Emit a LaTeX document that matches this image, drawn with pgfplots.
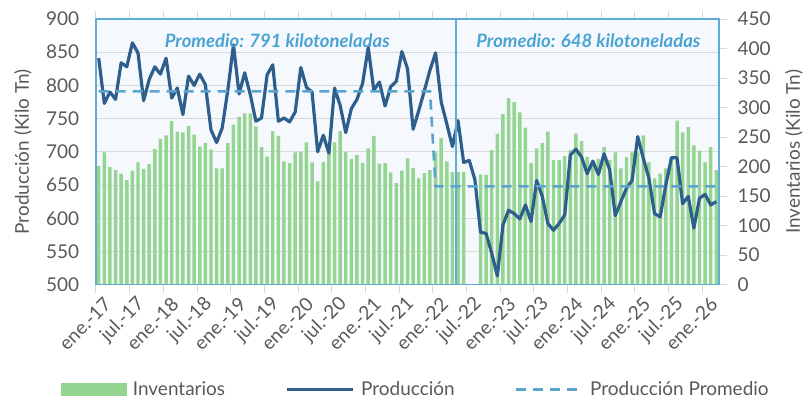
\documentclass[border=0pt]{standalone}
\usepackage{fontspec}
\setmainfont{Lato}
\usepackage{pgfplots}
\usepackage{pgfplotstable}
\pgfplotsset{compat=1.18}

\definecolor{barg}{RGB}{149,213,146}
\definecolor{prodc}{RGB}{46,94,140}
\definecolor{avgc}{RGB}{91,164,207}
\definecolor{boxc}{RGB}{96,172,214}
\definecolor{boxfill}{RGB}{245,249,253}
\definecolor{gridc}{RGB}{217,217,217}
\definecolor{txt}{RGB}{89,89,89}
\definecolor{promc}{RGB}{75,163,211}

% k = month index from ene-17; inv = inventarios, prod = produccion, avg = promedio
\pgfplotstableread{
k inv prod avg
0 201 841 791
1 224 773 791
2 199 790 791
3 194 779 791
4 188 834 791
5 177 828 791
6 193 864 791
7 207 849 791
8 196 777 791
9 204 809 791
10 230 828 791
11 247 817 791
12 253 841 791
13 277 781 791
14 259 796 791
15 258 756 791
16 269 814 791
17 254 800 791
18 234 817 791
19 240 801 791
20 229 733 791
21 197 714 791
22 197 736 791
23 240 793 791
24 271 861 791
25 284 787 791
26 290 819 791
27 290 786 791
28 268 746 791
29 233 751 791
30 217 816 791
31 260 831 791
32 252 746 791
33 209 751 791
34 206 745 791
35 224 760 791
36 225 827 791
37 241 797 791
38 207 790 791
39 175 700 791
40 208 725 791
41 224 698 791
42 241 796 791
43 260 770 791
44 225 729 791
45 213 765 791
46 220 779 791
47 206 803 791
48 231 857 791
49 252 793 791
50 205 805 791
51 206 769 791
52 190 798 791
53 172 806 791
54 193 851 791
55 214 825 791
56 198 734 791
57 180 762 791
58 189 792 791
59 194 823 791
60 224 849 648
61 248 775 648
62 209 742 648
63 191 708 648
64 191 747 648
65 191 684 648
66 nan 687 648
67 nan 658 648
68 187 579 648
69 186 577 648
70 228 547 648
71 256 513 648
72 289 590 648
73 316 612 648
74 309 607 648
75 292 599 648
76 266 620 648
77 206 595 648
78 231 657 648
79 240 633 648
80 259 592 648
81 211 582 648
82 211 592 648
83 218 605 648
84 228 695 648
85 256 704 648
86 243 692 648
87 216 667 648
88 209 686 648
89 213 666 648
90 233 697 648
91 211 673 648
92 224 604 648
93 197 625 648
94 216 645 648
95 224 657 648
96 224 723 648
97 253 690 648
98 207 660 648
99 180 607 648
100 188 602 648
101 197 650 648
102 217 691 648
103 278 691 648
104 258 622 648
105 267 633 648
106 236 585 648
107 227 630 648
108 207 636 648
109 233 620 648
110 194 625 648
}\datos

\pgfplotsset{
  base/.style={
    scale only axis, width=624pt, height=266pt,
    xmin=-0.5, xmax=110.5,
    /pgf/number format/assume math mode=true,
    tick label style={text=txt},
  },
}

\begin{document}
\begin{tikzpicture}
% fondo, rejilla, eje izquierdo y etiquetas de fechas
\begin{axis}[base, name=ax1,
    ymin=500, ymax=900, ytick={500,550,...,900},
    ymajorgrids, grid style={gridc, line width=0.9pt},
    axis background/.style={fill=boxfill},
    axis line style={draw=none},
    yticklabel style={font=\fontsize{19}{21}\selectfont, xshift=-9pt},
    ytick style={draw=none},
    xtick={0,6,...,108},
    xticklabels={ene.-17,jul.-17,ene.-18,jul.-18,ene.-19,jul.-19,ene.-20,jul.-20,ene.-21,jul.-21,ene.-22,jul.-22,ene.-23,jul.-23,ene.-24,jul.-24,ene.-25,jul.-25,ene.-26},
    xticklabel style={font=\fontsize{19}{21}\selectfont, rotate=45, anchor=east, inner sep=0pt, xshift=-2pt, yshift=-15pt},
    major x tick style={draw=none},
    minor xtick={-0.5,5.5,...,107.5},
    minor x tick style={gridc, line width=0.9pt},
    minor tick length=8pt, tick align=outside,
    ylabel={Producción (Kilo Tn)},
    ylabel style={at={(axis description cs:-0.117,0.5)}, anchor=center,
      font=\fontsize{19}{21}\selectfont, text=txt},
  ]
\end{axis}

% barras de inventarios, eje derecho
\begin{axis}[base,
    ymin=0, ymax=450, ytick={0,50,...,450},
    axis y line*=right, axis x line=none,
    axis line style={draw=none},
    yticklabel style={font=\fontsize{19}{21}\selectfont, xshift=7pt},
    ytick style={gridc, line width=0.9pt},
    major tick length=8pt, tick align=outside,
    ylabel={Inventarios (Kilo Tn)},
    ylabel style={at={(axis description cs:1.12,0.5)}, anchor=center,
      font=\fontsize{19}{21}\selectfont, text=txt},
  ]
  \addplot[ybar, bar width=0.62, fill=barg, draw=none] table[x=k, y=inv] {\datos};
\end{axis}

% produccion y promedio
\begin{axis}[base, hide axis, clip=false,
    ymin=500, ymax=900,
    legend style={at={(axis description cs:0.513,-0.395)}, anchor=center,
      draw=none, fill=none, legend columns=3,
      font=\fontsize{19}{21}\selectfont, text=txt,
      /tikz/every odd column/.append style={column sep=5pt},
      /tikz/every even column/.append style={column sep=58pt}},
  ]
  \addlegendimage{legend image code/.code={\fill[barg] (0pt,-6pt) rectangle (65pt,6pt);}}
  \addlegendentry{Inventarios}
  \addplot[prodc, line width=3.2pt, line join=round,
    legend image code/.code={\draw[prodc, line width=3.2pt] (0pt,0pt) -- (66pt,0pt);}]
    table[x=k, y=prod] {\datos};
  \addlegendentry{Producción}
  \addplot[avgc, line width=2.6pt, dash pattern=on 10pt off 7pt,
    legend image code/.code={\draw[avgc, line width=2.6pt, dash pattern=on 10pt off 7pt] (0pt,0pt) -- (66pt,0pt);}]
    table[x=k, y=avg] {\datos};
  \addlegendentry{Producción Promedio}

  \draw[boxc, line width=1.3pt] (rel axis cs:0,0) rectangle (rel axis cs:1,1);
  \draw[boxc, line width=1.3pt] (axis cs:63.66,500) -- (axis cs:63.66,900);
  \node[font=\bfseries\itshape\fontsize{18.5}{20}\selectfont, text=promc]
    at (axis cs:31.8,868) {Promedio: 791 kilotoneladas};
  \node[font=\bfseries\itshape\fontsize{18.5}{20}\selectfont, text=promc]
    at (axis cs:87.2,868) {Promedio: 648 kilotoneladas};
\end{axis}

\path (ax1.south west) ++(-96pt,-115pt) rectangle ++(806pt,400pt);
\end{tikzpicture}
\end{document}
